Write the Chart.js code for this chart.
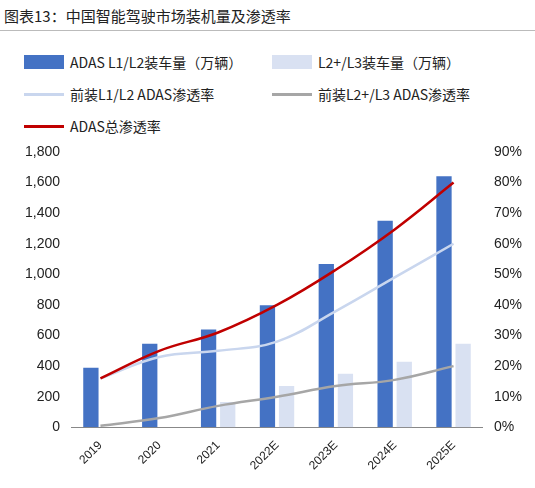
<!DOCTYPE html><html><head><meta charset="utf-8">
<script src="https://cdn.jsdelivr.net/npm/chart.js@4"></script>
<style>
body{margin:0;width:535px;height:488px;font-family:"Noto Sans CJK SC","Noto Sans",sans-serif;background:#fff;position:relative;overflow:hidden}
#t{position:absolute;left:4px;top:5px;font-size:15px;color:#222}
#hr{position:absolute;left:0;top:30px;width:535px;height:1px;background:#bbb}
.lg{position:absolute;font-size:14px;color:#222;display:flex;align-items:center;white-space:nowrap}
.sw{display:inline-block;margin-right:6px}
#w{position:absolute;left:0;top:138px;width:535px;height:350px}
</style></head><body>
<div id="t">图表13：中国智能驾驶市场装机量及渗透率</div><div id="hr"></div>
<div class="lg" style="left:24px;top:52px"><span class="sw" style="width:40px;height:14px;background:#4472C4"></span>ADAS L1/L2装车量（万辆）</div>
<div class="lg" style="left:272px;top:52px"><span class="sw" style="width:40px;height:14px;background:#D9E1F2"></span>L2+/L3装车量（万辆）</div>
<div class="lg" style="left:24px;top:84px"><span class="sw" style="width:40px;height:3px;background:#C9D6EE"></span>前装L1/L2 ADAS渗透率</div>
<div class="lg" style="left:272px;top:84px"><span class="sw" style="width:40px;height:3px;background:#A6A6A6"></span>前装L2+/L3 ADAS渗透率</div>
<div class="lg" style="left:24px;top:116px"><span class="sw" style="width:40px;height:3px;background:#C00000"></span>ADAS总渗透率</div>
<div id="w"><canvas id="c"></canvas></div>
<script>
const categories=["2019","2020","2021","2022E","2023E","2024E","2025E"];
const l1l2Units=[390,547,640,798,1068,1351,1641];
const l2pUnits=[0,0,165,270,350,428,547];
const l1l2Rate=[16,23,25,28,38,49,60];
const l2pRate=[0.5,3,7,10,13.5,15.5,20];
const totalRate=[16,25,31,40,51.5,64.7,80];
const leftTicks=[0,200,400,600,800,1000,1200,1400,1600,1800];
new Chart(document.getElementById('c'),{
data:{labels:categories,datasets:[
{type:'line',data:totalRate,yAxisID:'y1',borderColor:'#C00000',borderWidth:2.5,pointRadius:0,tension:0.4,order:0},
{type:'line',data:l1l2Rate,yAxisID:'y1',borderColor:'#C9D6EE',borderWidth:2.5,pointRadius:0,tension:0.4,order:1},
{type:'line',data:l2pRate,yAxisID:'y1',borderColor:'#A6A6A6',borderWidth:2.5,pointRadius:0,tension:0.4,order:2},
{type:'bar',data:l1l2Units,yAxisID:'y',backgroundColor:'#4472C4',barPercentage:0.8,categoryPercentage:0.65,order:3},
{type:'bar',data:l2pUnits,yAxisID:'y',backgroundColor:'#D9E1F2',barPercentage:0.8,categoryPercentage:0.65,order:3}
]},
options:{responsive:true,maintainAspectRatio:false,animation:false,
layout:{padding:{top:14,right:10,left:22,bottom:12}},
plugins:{legend:{display:false},tooltip:{enabled:false}},
scales:{
x:{grid:{display:false},border:{color:'#888'},ticks:{color:'#222',font:{size:12},maxRotation:45,minRotation:45}},
y:{min:0,max:1800,afterBuildTicks:a=>{a.ticks=leftTicks.map(v=>({value:v}))},grid:{display:false},border:{display:false},ticks:{color:'#222',font:{size:14},callback:v=>v.toLocaleString('en-US')}},
y1:{position:'right',min:0,max:90,grid:{display:false},border:{display:false},ticks:{stepSize:10,color:'#222',font:{size:14},callback:v=>v+'%'}}
}}});
</script></body></html>
